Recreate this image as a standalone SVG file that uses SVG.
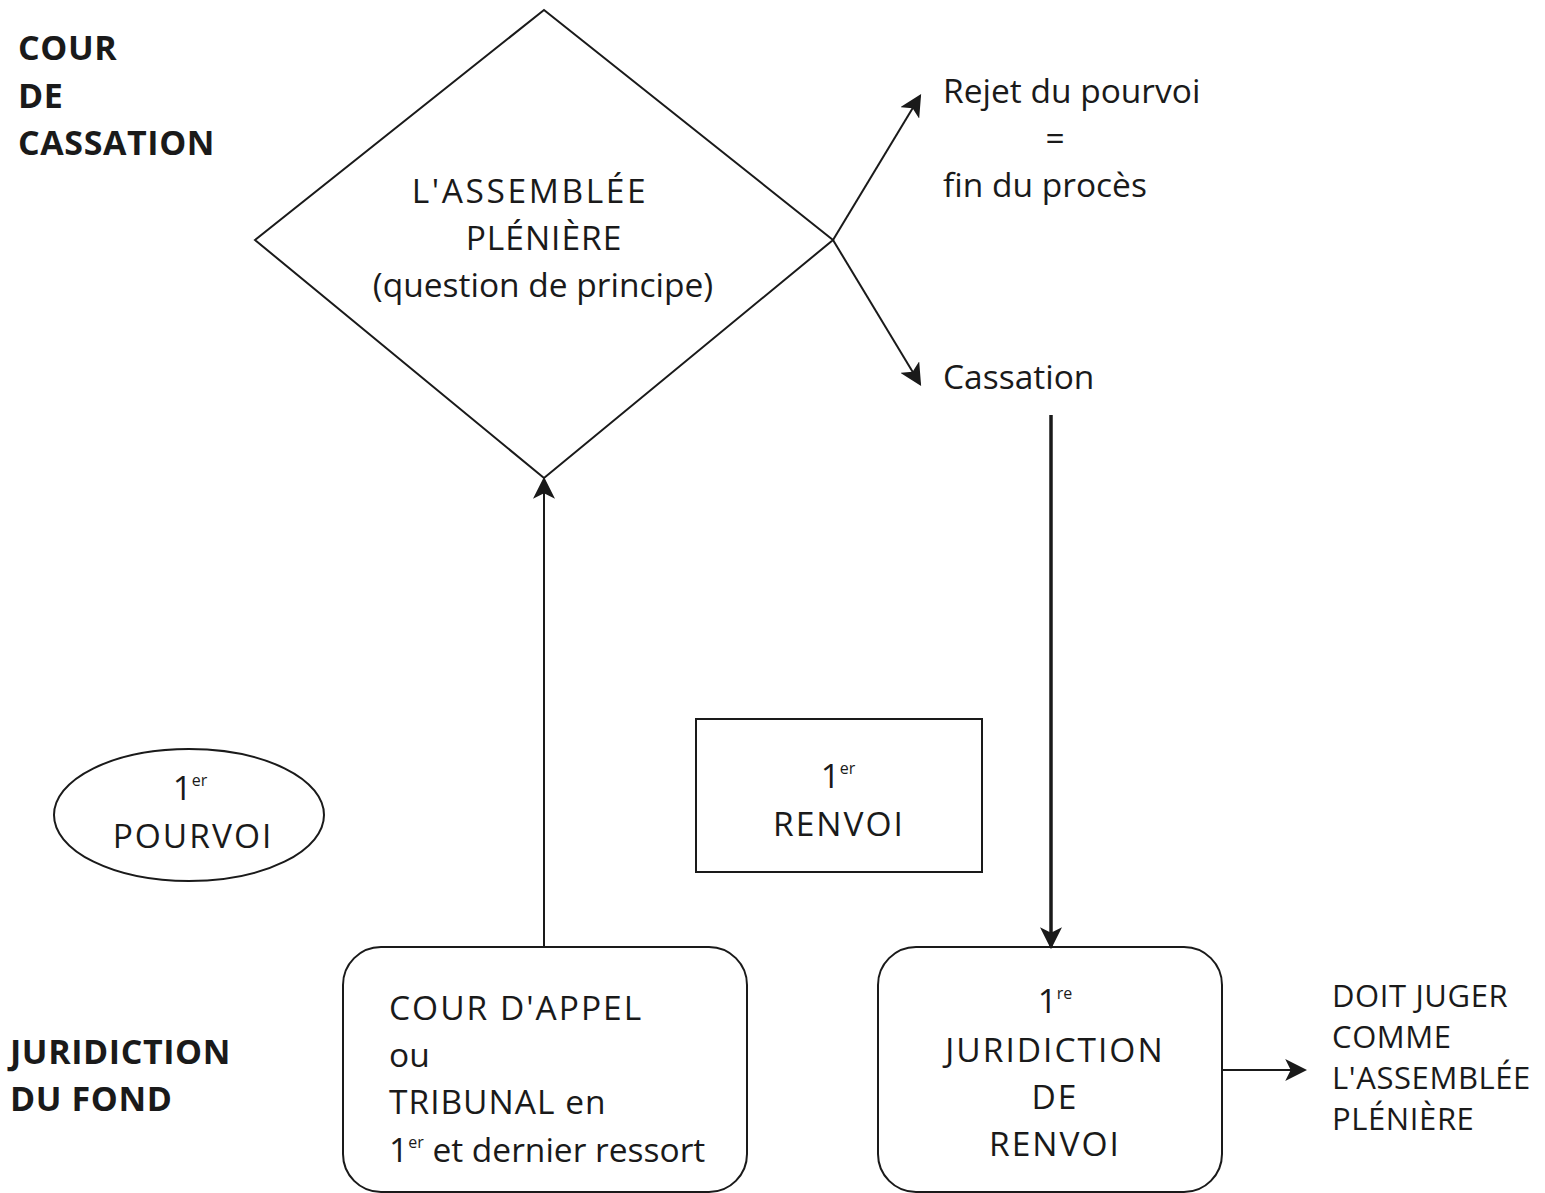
<svg xmlns="http://www.w3.org/2000/svg" width="1545" height="1193" viewBox="0 0 1545 1193">
<style>
text{font-family:"Open Sans","Noto Sans","DejaVu Sans",sans-serif;font-size:33.5px;fill:#1a1a1a}
.b{font-weight:bold;font-size:34px;letter-spacing:0.6px}
.m{text-anchor:middle}
.k{letter-spacing:2px}
.s{font-size:16px;letter-spacing:0}
.d{font-size:31px;letter-spacing:0.6px}
.shape{fill:none;stroke:#1a1a1a;stroke-width:2}
.c{fill:none;stroke:#1a1a1a;stroke-width:2}
</style>
<defs>
<marker id="ah2" viewBox="0 0 10 10" refX="9" refY="5" markerWidth="22" markerHeight="22" markerUnits="userSpaceOnUse" orient="auto">
<path d="M0,0 L10,5 L0,10 L2.5,5 Z" fill="#1a1a1a"/>
</marker>
</defs>
<g id="label-cassation">
<text class="b" x="18" y="60">COUR</text>
<text class="b" x="18" y="108">DE</text>
<text class="b" x="18" y="155">CASSATION</text>
</g>
<g id="label-fond">
<text class="b" x="10" y="1064">JURIDICTION</text>
<text class="b" x="10" y="1111">DU FOND</text>
</g>
<g id="assemblee">
<polygon class="shape" points="544,10 833,240 544,478 255,240"/>
<text class="m" x="530" y="203" style="letter-spacing:2.6px">L'ASSEMBLÉE</text>
<text class="m" x="544" y="250" style="letter-spacing:1px">PLÉNIÈRE</text>
<text class="m" x="543" y="297">(question de principe)</text>
</g>
<g id="rejet">
<text x="943" y="103">Rejet du pourvoi</text>
<text class="m" x="1055" y="150">=</text>
<text x="943" y="197">fin du procès</text>
</g>
<g id="cassation">
<text x="943" y="389">Cassation</text>
</g>
<g id="pourvoi">
<ellipse class="shape" cx="189" cy="815" rx="135" ry="66"/>
<text class="m" x="190" y="800">1<tspan class="s" dy="-14">er</tspan></text>
<text class="m k" x="193" y="848">POURVOI</text>
</g>
<g id="renvoi">
<rect class="shape" x="696" y="719" width="286" height="153"/>
<text class="m" x="838" y="788">1<tspan class="s" dy="-14">er</tspan></text>
<text class="m k" x="839" y="836">RENVOI</text>
</g>
<g id="cour-appel">
<rect class="shape" x="343" y="947" width="404" height="245" rx="38" ry="38"/>
<text class="k" x="389" y="1020">COUR D'APPEL</text>
<text x="389" y="1067">ou</text>
<text class="k" x="389" y="1114" style="letter-spacing:1px">TRIBUNAL en</text>
<text x="389" y="1162">1<tspan class="s" dy="-14">er</tspan><tspan dy="14"> et dernier ressort</tspan></text>
</g>
<g id="juridiction-renvoi">
<rect class="shape" x="878" y="947" width="344" height="245" rx="38" ry="38"/>
<text class="m" x="1055" y="1013">1<tspan class="s" dy="-14">re</tspan></text>
<text class="m k" x="1055" y="1062">JURIDICTION</text>
<text class="m k" x="1055" y="1109">DE</text>
<text class="m k" x="1055" y="1156">RENVOI</text>
</g>
<g id="doit-juger">
<text class="d" x="1332" y="1007">DOIT JUGER</text>
<text class="d" x="1332" y="1048">COMME</text>
<text class="d" x="1332" y="1089">L'ASSEMBLÉE</text>
<text class="d" x="1332" y="1130">PLÉNIÈRE</text>
</g>
<g id="connectors">
<line class="c" x1="833" y1="240" x2="920" y2="96" marker-end="url(#ah2)"/>
<line class="c" x1="833" y1="240" x2="920" y2="384" marker-end="url(#ah2)"/>
<line class="c" x1="544" y1="946" x2="544" y2="479" marker-end="url(#ah2)"/>
<line class="c" x1="1051" y1="415" x2="1051" y2="947" style="stroke-width:3.5" marker-end="url(#ah2)"/>
<line class="c" x1="1222" y1="1070" x2="1305" y2="1070" marker-end="url(#ah2)"/>
</g>
</svg>
